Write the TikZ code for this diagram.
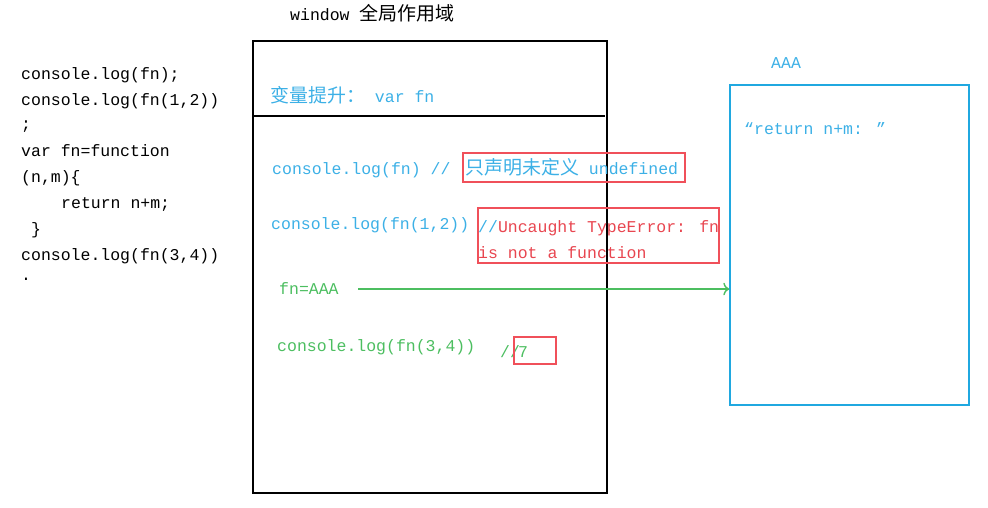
\documentclass[tikz,border=0pt]{standalone}
\usepackage{fontspec}
\setmainfont{Liberation Mono}
\newfontfamily\cjk[Scale=1.15]{Noto Sans CJK SC}
\usetikzlibrary{arrows.meta}
\newcommand{\codefont}{\fontsize{16.5}{26}\selectfont}

\definecolor{jsblue}{RGB}{60,176,230}
\definecolor{lineblue}{RGB}{32,168,224}
\definecolor{jsred}{RGB}{232,70,80}
\definecolor{boxred}{RGB}{240,80,90}
\definecolor{jsgreen}{RGB}{76,190,96}

\tikzset{
  code/.style={anchor=base west, inner sep=0pt, font=\codefont},
  redbox/.style={draw=boxred, line width=1.8pt, anchor=north west, inner sep=0pt},
}

\begin{document}
\begin{tikzpicture}[x=1pt, y=-1pt]
  \useasboundingbox (0,0) rectangle (988,507);

  % code on the left
  \node[code] (c1) at (21,79) {console.log(fn);};
  \node[code] (c2) at (21,105) {console.log(fn(1,2))};
  \node[code] (c3) at (21,129) {;};
  \node[code] (c4) at (21,156) {var fn=function};
  \node[code] (c5) at (21,182) {(n,m)\{};
  \node[code] (c6) at (61,208) {return n+m;};
  \node[code] (c7) at (31,234) {\}};
  \node[code] (c8) at (21,260) {console.log(fn(3,4))};
  \node[code] (c9) at (21,280) {.};

  % global scope
  \node[code] (title) at (290,20) {window {\cjk 全局作用域}};
  \node[draw, line width=1.4pt, minimum width=354pt, minimum height=452pt,
        inner sep=0pt] (win) at (430,267) {};
  \coordinate (split) at (605,116);
  \draw[line width=1.4pt] (win.west |- split) -- (split);

  \node[code, text=jsblue] (hoist) at (270,102) {{\cjk 变量提升：} var fn};
  \node[code, text=jsblue] (log1) at (272,174) {console.log(fn) //};
  \node[redbox, minimum width=222pt, minimum height=29pt] (box1) at (462,152) {};
  \node[code, text=jsblue] (undef) at (465,174) {{\cjk 只声明未定义} undefined};

  \node[code, text=jsblue] (log2) at (271,229) {console.log(fn(1,2))};
  \node[redbox, minimum width=241pt, minimum height=55pt] (box2) at (477,207) {};
  \node[code, text=jsred] (err1) at (478,232) {\textcolor{jsblue}{//}Uncaught TypeError: fn};
  \node[code, text=jsred] (err2) at (478,258) {is not a function};

  \node[code, text=jsgreen] (assign) at (279,294) {fn=AAA};
  \coordinate (arrS) at (358,289);

  \node[code, text=jsgreen] (log3) at (277,351) {console.log(fn(3,4))};
  \node[code, text=jsgreen] (cm3) at (500,357) {//};
  \node[redbox, minimum width=42pt, minimum height=27pt] (box3) at (513,336) {};
  \node[code, text=jsgreen] (seven) at (518,357) {7};

  % heap object AAA
  \node[code, text=jsblue] (aaa) at (771,68) {AAA};
  \node[draw=lineblue, line width=1.4pt, minimum width=239pt, minimum height=320pt,
        inner sep=0pt] (heap) at (849.5,245) {};
  \node[code, text=jsblue] (ret) at (744,134) {“return n+m: ”};

  \draw[jsgreen, line width=1.4pt, -{To[length=6pt]}] (arrS) -- (heap.west |- arrS);
\end{tikzpicture}
\end{document}
